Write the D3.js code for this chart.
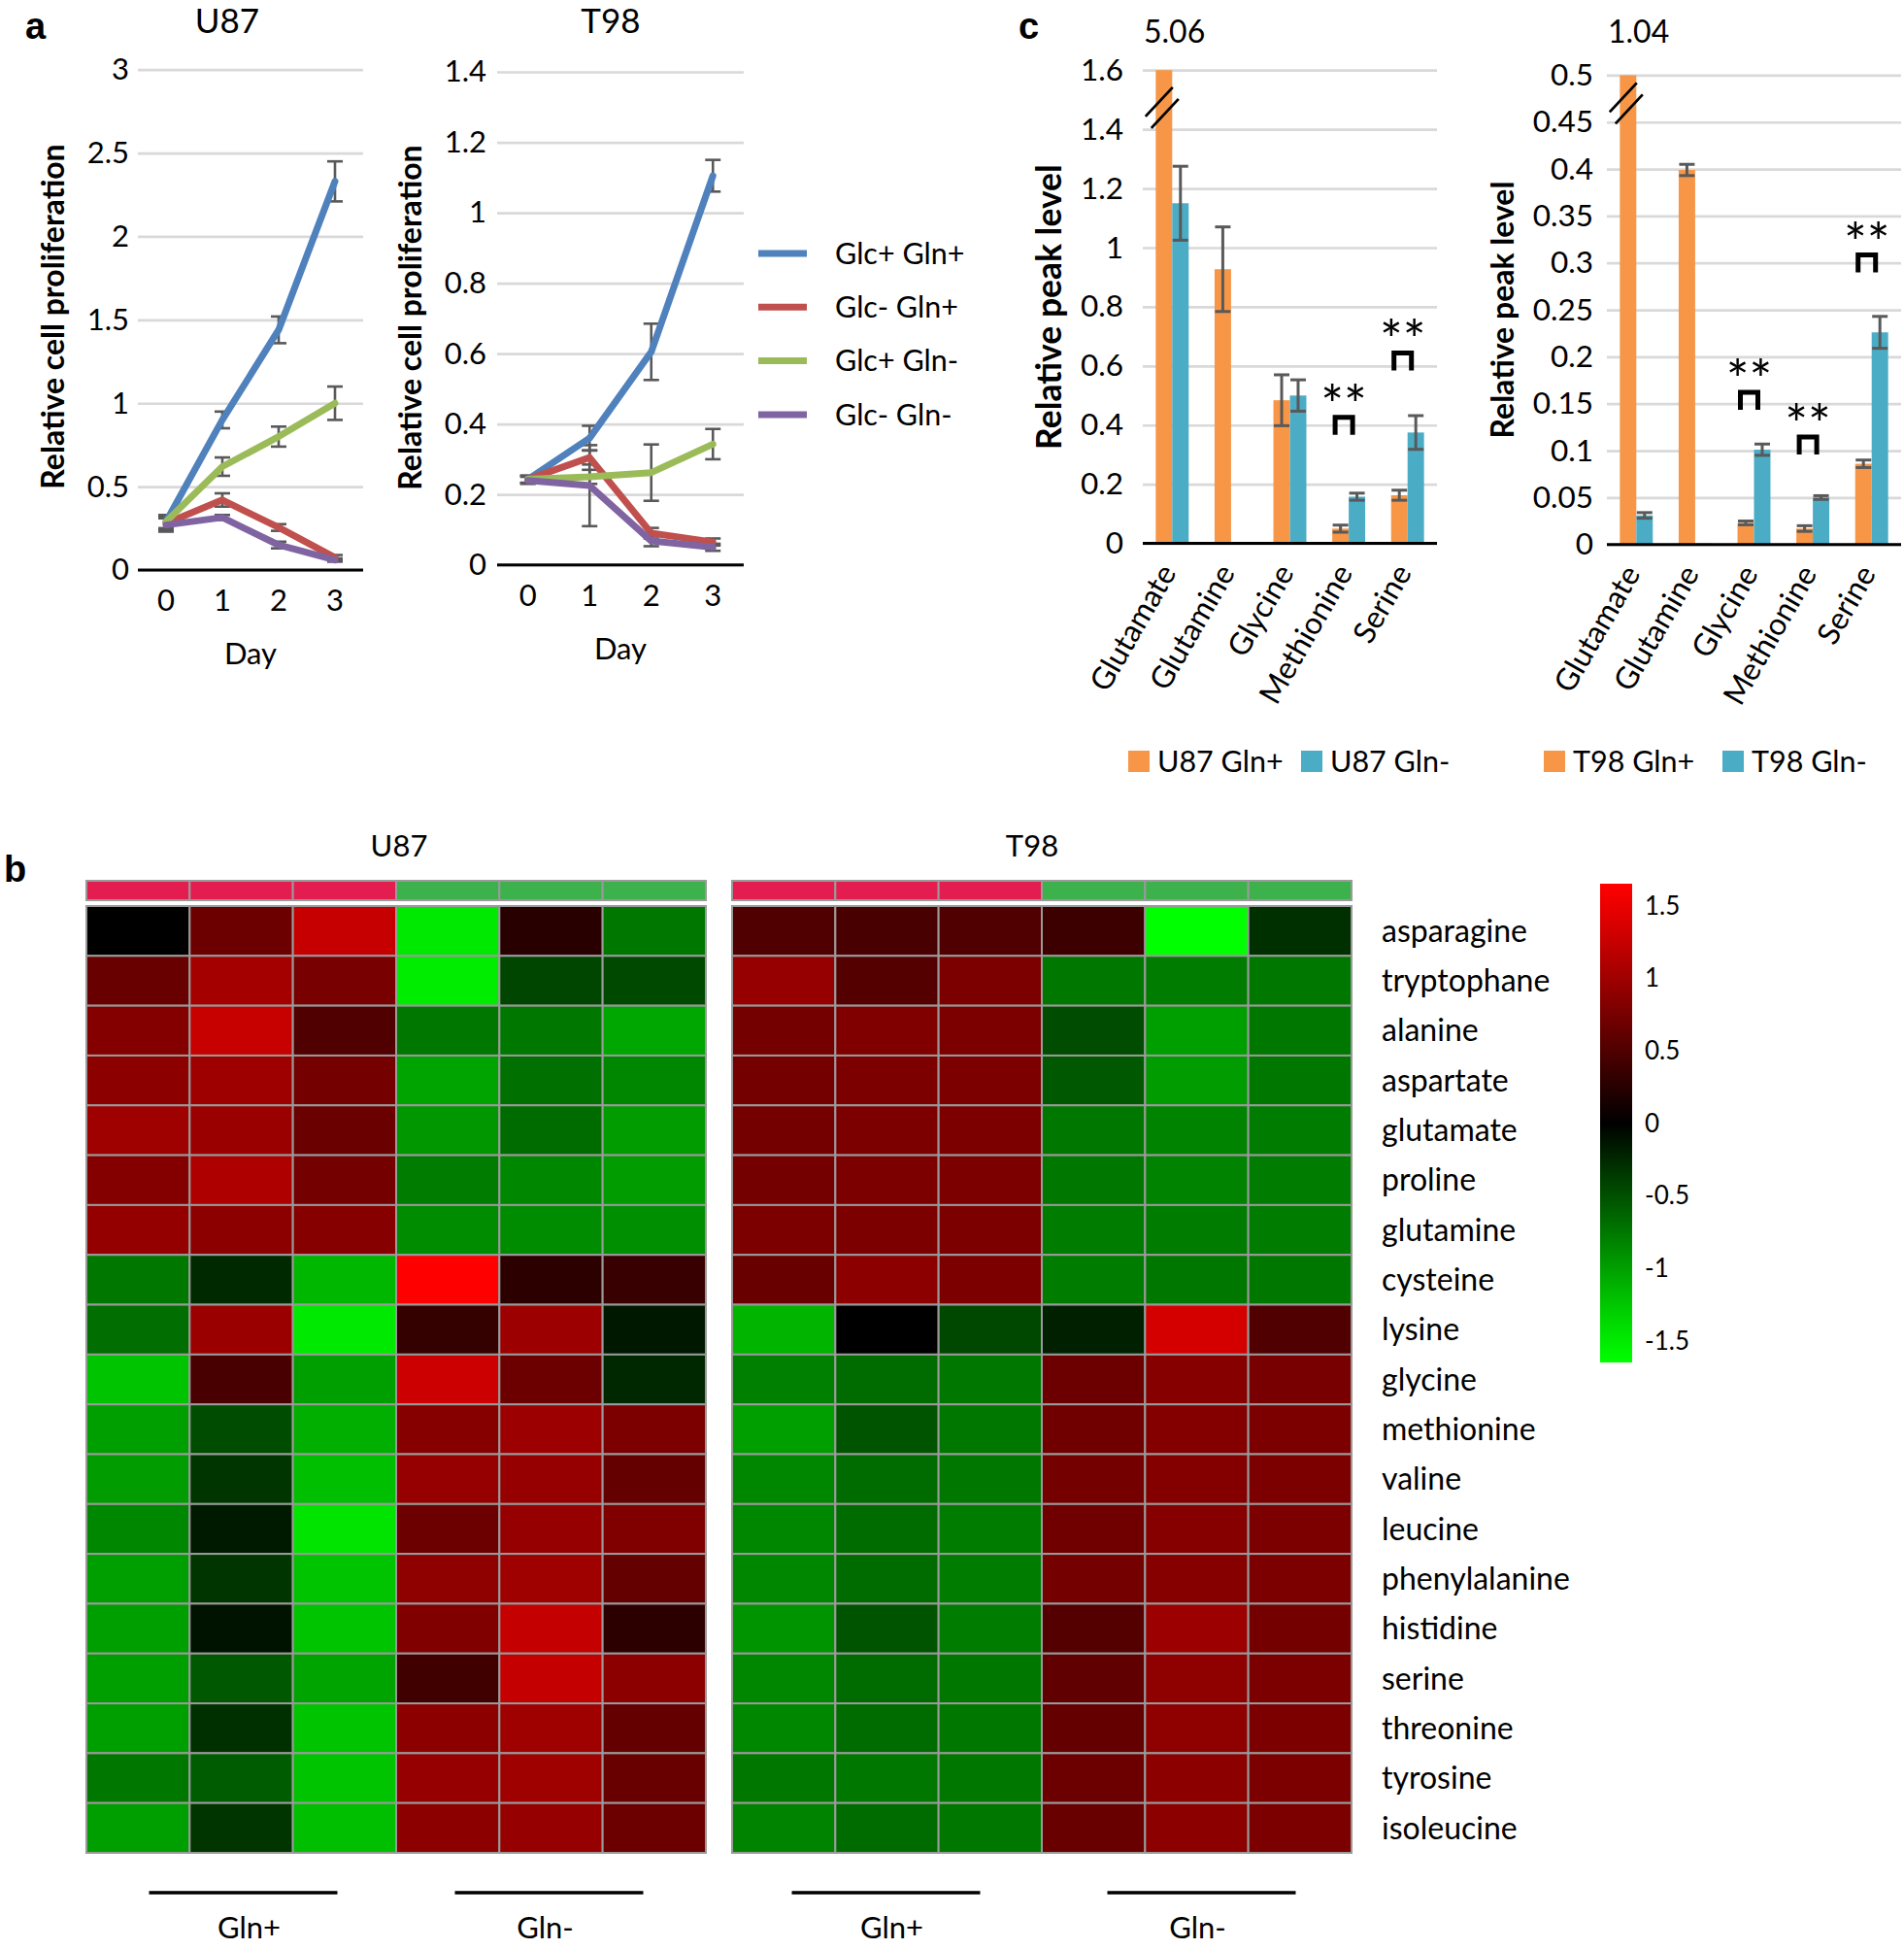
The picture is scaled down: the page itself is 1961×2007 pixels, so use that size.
<!DOCTYPE html>
<html><head><meta charset="utf-8">
<script src="https://cdn.jsdelivr.net/npm/d3@7"></script>
<style>
body{margin:0;background:#fff}
svg text{font-family:Lato,"Open Sans",sans-serif;fill:#000}
</style>
</head><body>
<svg id="fig" width="1961" height="2007" xmlns="http://www.w3.org/2000/svg"></svg>
<script>
// ---------------- DATA ----------------
const days = [0, 1, 2, 3];
const seriesNames = ["Glc+ Gln+", "Glc- Gln+", "Glc+ Gln-", "Glc- Gln-"];
const seriesColors = ["#4F81BD", "#C0504D", "#9BBB59", "#8064A2"];

// Panel a: U87 proliferation (rows = series, cols = days)
const u87Prolif = [
  [0.29, 0.90, 1.44, 2.33],
  [0.28, 0.42, 0.255, 0.075],
  [0.29, 0.62, 0.80, 1.00],
  [0.27, 0.315, 0.15, 0.06]
];
const u87ProlifErr = [
  [0.04, 0.05, 0.08, 0.12],
  [0.04, 0.04, 0.02, 0.015],
  [0.04, 0.055, 0.06, 0.10],
  [0.04, 0.015, 0.02, 0.01]
];
const u87ProlifTicks = [0, 0.5, 1, 1.5, 2, 2.5, 3];

// Panel a: T98 proliferation
const t98Prolif = [
  [0.243, 0.36, 0.605, 1.105],
  [0.243, 0.305, 0.09, 0.065],
  [0.243, 0.25, 0.262, 0.343],
  [0.24, 0.225, 0.068, 0.05]
];
const t98ProlifErr = [
  [0.01, 0.035, 0.08, 0.045],
  [0.01, 0.02, 0.015, 0.01],
  [0.01, 0.02, 0.08, 0.043],
  [0.01, 0.115, 0.015, 0.01]
];
const t98ProlifTicks = [0, 0.2, 0.4, 0.6, 0.8, 1, 1.2, 1.4];

// Panel c: relative peak levels
const aminoBars = ["Glutamate", "Glutamine", "Glycine", "Methionine", "Serine"];
const u87GlnPlus = [5.06, 0.927, 0.484, 0.05, 0.163];
const u87GlnPlusErr = [0, 0.143, 0.086, 0.012, 0.017];
const u87GlnMinus = [1.15, 0.003, 0.50, 0.158, 0.375];
const u87GlnMinusErr = [0.125, 0, 0.053, 0.012, 0.057];
const u87PeakTicks = [0, 0.2, 0.4, 0.6, 0.8, 1, 1.2, 1.4, 1.6];
const u87Sig = [{cat: "Methionine", top: 0.426}, {cat: "Serine", top: 0.644}];

const t98GlnPlus = [1.04, 0.399, 0.023, 0.017, 0.086];
const t98GlnPlusErr = [0, 0.006, 0.002, 0.003, 0.004];
const t98GlnMinus = [0.031, 0.001, 0.101, 0.05, 0.226];
const t98GlnMinusErr = [0.003, 0, 0.006, 0.002, 0.017];
const t98PeakTicks = [0, 0.05, 0.1, 0.15, 0.2, 0.25, 0.3, 0.35, 0.4, 0.45, 0.5];
const t98Sig = [{cat: "Glycine", top: 0.162}, {cat: "Methionine", top: 0.1145}, {cat: "Serine", top: 0.3085}];

// Panel b: heatmap (z-scores)
const heatRows = ["asparagine", "tryptophane", "alanine", "aspartate", "glutamate", "proline",
  "glutamine", "cysteine", "lysine", "glycine", "methionine", "valine", "leucine",
  "phenylalanine", "histidine", "serine", "threonine", "tyrosine", "isoleucine"];
const heatCols = ["Gln+", "Gln+", "Gln+", "Gln-", "Gln-", "Gln-"];
const u87Heat = [
  [0, 0.68, 1.24, -1.46, 0.25, -0.75],
  [0.65, 1.03, 0.75, -1.49, -0.43, -0.46],
  [0.83, 1.25, 0.50, -0.75, -0.75, -1.05],
  [0.88, 0.99, 0.73, -1.03, -0.70, -0.85],
  [1.00, 0.97, 0.67, -0.95, -0.68, -0.98],
  [0.83, 1.10, 0.73, -0.78, -0.85, -0.98],
  [0.93, 0.88, 0.85, -0.88, -0.88, -0.90],
  [-0.75, -0.26, -1.15, 1.60, 0.28, 0.35],
  [-0.69, 0.97, -1.46, 0.33, 0.98, -0.15],
  [-1.23, 0.45, -1.00, 1.28, 0.68, -0.25],
  [-1.00, -0.48, -1.10, 0.85, 0.98, 0.78],
  [-0.98, -0.33, -1.20, 0.95, 0.95, 0.63],
  [-0.85, -0.16, -1.43, 0.68, 0.95, 0.80],
  [-1.00, -0.33, -1.23, 0.90, 1.00, 0.63],
  [-1.00, -0.11, -1.23, 0.80, 1.23, 0.28],
  [-1.00, -0.55, -1.03, 0.40, 1.23, 0.88],
  [-1.00, -0.30, -1.23, 0.88, 1.00, 0.63],
  [-0.75, -0.58, -1.23, 0.95, 1.00, 0.65],
  [-1.00, -0.33, -1.20, 0.88, 0.95, 0.68]
];
const t98Heat = [
  [0.50, 0.45, 0.50, 0.38, -1.60, -0.30],
  [0.95, 0.53, 0.78, -0.75, -0.78, -0.75],
  [0.73, 0.80, 0.78, -0.48, -1.00, -0.75],
  [0.73, 0.78, 0.78, -0.55, -0.98, -0.75],
  [0.73, 0.78, 0.78, -0.75, -0.83, -0.78],
  [0.73, 0.78, 0.78, -0.75, -0.83, -0.78],
  [0.78, 0.78, 0.78, -0.78, -0.78, -0.78],
  [0.65, 0.88, 0.78, -0.78, -0.75, -0.75],
  [-1.13, 0, -0.45, -0.20, 1.33, 0.50],
  [-0.80, -0.68, -0.75, 0.68, 0.85, 0.75],
  [-1.00, -0.53, -0.75, 0.70, 0.83, 0.78],
  [-0.85, -0.68, -0.75, 0.73, 0.83, 0.78],
  [-0.85, -0.68, -0.78, 0.70, 0.85, 0.78],
  [-0.85, -0.68, -0.78, 0.73, 0.85, 0.78],
  [-0.93, -0.53, -0.78, 0.53, 0.98, 0.73],
  [-0.85, -0.68, -0.75, 0.60, 0.90, 0.78],
  [-0.85, -0.68, -0.75, 0.63, 0.90, 0.78],
  [-0.75, -0.75, -0.75, 0.68, 0.88, 0.78],
  [-0.83, -0.68, -0.75, 0.65, 0.88, 0.78]
];
const colorbarTicks = [1.5, 1, 0.5, 0, -0.5, -1, -1.5];

// ---------------- DRAWING ----------------
const svg = d3.select("#fig");
const fmt = d => String(+(+d).toFixed(3));
const GRID = "#d9d9d9", ERR = "#595959";

function panelLabel(t, x, y) {
  svg.append("text").attr("x", x).attr("y", y).text(t)
    .style("font-family", "'Liberation Sans',Arial,sans-serif").style("font-weight", "bold").style("font-size", "38px");
}
panelLabel("a", 26, 40);
panelLabel("b", 4, 908);
panelLabel("c", 1049, 40);

// ---- Panel a: line charts ----
function lineChart(o) {
  const g = svg.append("g");
  const x = d3.scalePoint(days, [o.x0, o.x1]).padding(0.5);
  const y = d3.scaleLinear([0, o.ticks[o.ticks.length - 1]], [o.yb, o.yt]);
  const ax = g.append("g").attr("transform", `translate(${o.x0},0)`)
    .call(d3.axisLeft(y).tickValues(o.ticks).tickFormat(fmt).tickSize(-(o.x1 - o.x0)).tickPadding(o.pad));
  ax.select(".domain").remove();
  ax.selectAll(".tick line").attr("stroke", GRID).attr("stroke-width", 2.7);
  ax.selectAll(".tick text").style("font-size", "31px").attr("fill", "#000");
  g.append("line").attr("x1", o.x0).attr("x2", o.x1).attr("y1", y(0)).attr("y2", y(0))
    .attr("stroke", "#000").attr("stroke-width", 3);
  g.selectAll("text.xt").data(days).join("text").attr("class", "xt")
    .attr("x", d => x(d)).attr("y", o.yb + 31).attr("dy", "0.35em").attr("text-anchor", "middle")
    .style("font-size", "31px").text(d => d);
  g.append("text").attr("x", (o.x0 + o.x1) / 2).attr("y", o.yb + 86).attr("dy", "0.35em")
    .attr("text-anchor", "middle").style("font-size", "31px").text("Day");
  g.append("text").attr("x", o.titleX).attr("y", 22).attr("dy", "0.35em")
    .attr("text-anchor", "middle").style("font-size", "35px").text(o.title);
  g.append("text").attr("transform", `translate(${o.ytx},${o.yty}) rotate(-90)`)
    .attr("text-anchor", "middle").attr("dy", "0.35em")
    .style("font-size", "32px").style("font-weight", "bold").text("Relative cell proliferation");
  o.data.forEach((s, si) => {
    s.forEach((v, di) => {
      const e = o.err[si][di], cx = x(days[di]);
      const eg = g.append("g").attr("stroke", ERR).attr("stroke-width", 2.6);
      eg.append("line").attr("x1", cx).attr("x2", cx).attr("y1", y(v - e)).attr("y2", y(v + e));
      eg.append("line").attr("x1", cx - 8).attr("x2", cx + 8).attr("y1", y(v - e)).attr("y2", y(v - e));
      eg.append("line").attr("x1", cx - 8).attr("x2", cx + 8).attr("y1", y(v + e)).attr("y2", y(v + e));
    });
  });
  const line = d3.line().x((d, i) => x(days[i])).y(d => y(d));
  o.data.forEach((s, si) => {
    g.append("path").attr("d", line(s)).attr("fill", "none")
      .attr("stroke", seriesColors[si]).attr("stroke-width", 7)
      .attr("stroke-linejoin", "round").attr("stroke-linecap", "round");
  });
}
lineChart({x0: 142, x1: 374, yb: 587, yt: 71.7, ticks: u87ProlifTicks, data: u87Prolif, err: u87ProlifErr,
  title: "U87", titleX: 234, ytx: 55, yty: 326, pad: 9});
lineChart({x0: 512, x1: 766, yb: 581.7, yt: 74, ticks: t98ProlifTicks, data: t98Prolif, err: t98ProlifErr,
  title: "T98", titleX: 629, ytx: 423, yty: 327, pad: 11});

// legend a
const lg = svg.append("g");
seriesNames.forEach((n, i) => {
  const yy = 261 + i * 55.3;
  lg.append("line").attr("x1", 781).attr("x2", 831).attr("y1", yy).attr("y2", yy)
    .attr("stroke", seriesColors[i]).attr("stroke-width", 7);
  lg.append("text").attr("x", 860).attr("y", yy).attr("dy", "0.35em").style("font-size", "30.5px").text(n);
});

// ---- Panel c: bar charts ----
function barChart(o) {
  const g = svg.append("g");
  const x = d3.scaleBand(aminoBars, [o.x0, o.x1]).paddingInner(0.44).paddingOuter(0.22);
  const xs = d3.scaleBand(["plus", "minus"], [0, x.bandwidth()]);
  const ymax = o.ticks[o.ticks.length - 1];
  const y = d3.scaleLinear([0, ymax], [o.yb, o.yt]).clamp(true);
  const ax = g.append("g").attr("transform", `translate(${o.x0},0)`)
    .call(d3.axisLeft(y).tickValues(o.ticks).tickFormat(fmt).tickSize(-(o.x1 - o.x0)).tickPadding(o.pad));
  ax.select(".domain").remove();
  ax.selectAll(".tick line").attr("stroke", GRID).attr("stroke-width", 2.7);
  ax.selectAll(".tick text").style("font-size", "31.5px").attr("fill", "#000");
  const series = [{k: "plus", v: o.plus, e: o.plusErr, c: "#F79646"}, {k: "minus", v: o.minus, e: o.minusErr, c: "#4BACC6"}];
  series.forEach(s => {
    g.selectAll(null).data(aminoBars).join("rect")
      .attr("x", d => x(d) + xs(s.k)).attr("width", xs.bandwidth())
      .attr("y", (d, i) => y(s.v[i])).attr("height", (d, i) => y(0) - y(s.v[i])).attr("fill", s.c);
  });
  series.forEach(s => {
    aminoBars.forEach((d, i) => {
      if (s.v[i] > ymax || s.e[i] <= 0) return;
      const cx = x(d) + xs(s.k) + xs.bandwidth() / 2;
      const eg = g.append("g").attr("stroke", ERR).attr("stroke-width", 3);
      eg.append("line").attr("x1", cx).attr("x2", cx).attr("y1", y(s.v[i] - s.e[i])).attr("y2", y(s.v[i] + s.e[i]));
      eg.append("line").attr("x1", cx - 8).attr("x2", cx + 8).attr("y1", y(s.v[i] - s.e[i])).attr("y2", y(s.v[i] - s.e[i]));
      eg.append("line").attr("x1", cx - 8).attr("x2", cx + 8).attr("y1", y(s.v[i] + s.e[i])).attr("y2", y(s.v[i] + s.e[i]));
    });
  });
  g.append("line").attr("x1", o.x0).attr("x2", o.x1).attr("y1", y(0)).attr("y2", y(0))
    .attr("stroke", "#000").attr("stroke-width", 3);
  const bx = x(aminoBars[0]) + xs("plus") + xs.bandwidth() / 2 - 2, by = y(o.breakAt);
  [[-17, 9, 11, -21], [-11, 21, 17, -9]].forEach(p => {
    g.append("line").attr("x1", bx + p[0]).attr("y1", by + p[1]).attr("x2", bx + p[2]).attr("y2", by + p[3])
      .attr("stroke", "#000").attr("stroke-width", 2.8);
  });
  g.append("text").attr("x", o.x0 + 1).attr("y", 33).attr("dy", "0.35em").style("font-size", "32px").text(o.topLabel);
  g.selectAll("text.cat").data(aminoBars).join("text").attr("class", "cat")
    .attr("transform", d => `translate(${x(d) + x.bandwidth() / 2 + 5},${y(0) + 30}) rotate(-60)`)
    .attr("text-anchor", "end").style("font-size", "31.5px").text(d => d);
  o.sig.forEach(s => {
    const cx = x(s.cat) + x.bandwidth() / 2 - 5, ty = y(s.top);
    g.append("path").attr("d", `M${cx - 9},${ty + 18}V${ty}H${cx + 9}V${ty + 18}`)
      .attr("fill", "none").attr("stroke", "#000").attr("stroke-width", 5);
    g.append("text").attr("x", cx).attr("y", ty + 7).attr("text-anchor", "middle")
      .style("font-size", "56px").text("**");
  });
  g.append("text").attr("transform", `translate(${o.ytx},${o.yty}) rotate(-90)`)
    .attr("text-anchor", "middle").attr("dy", "0.35em")
    .style("font-size", o.ytSize).style("font-weight", "bold").text("Relative peak level");
  [[o.leg[0], "#F79646", o.cell + " Gln+"], [o.leg[1], "#4BACC6", o.cell + " Gln-"]].forEach(l => {
    g.append("rect").attr("x", l[0]).attr("y", 773).attr("width", 22).attr("height", 22).attr("fill", l[1]);
    g.append("text").attr("x", l[0] + 30).attr("y", 784).attr("dy", "0.35em").style("font-size", "30.5px").text(l[2]);
  });
}
barChart({x0: 1177, x1: 1480, yb: 559.6, yt: 72.2, ticks: u87PeakTicks, plus: u87GlnPlus, plusErr: u87GlnPlusErr,
  minus: u87GlnMinus, minusErr: u87GlnMinusErr, sig: u87Sig, breakAt: 1.473, topLabel: "5.06",
  ytx: 1081, yty: 316, ytSize: "35.5px", leg: [1162, 1340], cell: "U87", pad: 20});
barChart({x0: 1655, x1: 1958, yb: 560.7, yt: 77.4, ticks: t98PeakTicks, plus: t98GlnPlus, plusErr: t98GlnPlusErr,
  minus: t98GlnMinus, minusErr: t98GlnMinusErr, sig: t98Sig, breakAt: 0.47, topLabel: "1.04",
  ytx: 1548, yty: 319, ytSize: "32px", leg: [1590, 1774], cell: "T98", pad: 14});

// ---- Panel b: heatmaps ----
const heatColor = d3.scaleLinear([-1.6, 0, 1.6], ["#00ff00", "#000000", "#ff0000"]).clamp(true);
const yRow = d3.scaleBand(heatRows, [933, 1908]);
function heatmap(o) {
  const g = svg.append("g");
  const x = d3.scaleBand(d3.range(heatCols.length), [o.x0, o.x1]);
  g.append("text").attr("x", o.titleX).attr("y", 871).attr("dy", "0.35em").attr("text-anchor", "middle")
    .style("font-size", "31px").text(o.title);
  g.selectAll("rect.ann").data(heatCols).join("rect").attr("class", "ann")
    .attr("x", (d, i) => x(i)).attr("width", x.bandwidth()).attr("y", 907).attr("height", 20)
    .attr("fill", d => d === "Gln+" ? "#e31d4f" : "#3db14b").attr("stroke", "#9a9a9a").attr("stroke-width", 2);
  o.data.forEach((row, ri) => {
    g.selectAll(null).data(row).join("rect")
      .attr("x", (d, i) => x(i)).attr("width", x.bandwidth())
      .attr("y", yRow(heatRows[ri])).attr("height", yRow.bandwidth())
      .attr("fill", d => heatColor(d)).attr("stroke", "#9a9a9a").attr("stroke-width", 2);
  });
  ["Gln+", "Gln-"].forEach((grp, gi) => {
    const idx = heatCols.map((c, i) => c === grp ? i : -1).filter(i => i >= 0);
    const cx = (x(idx[0]) + x(idx[idx.length - 1]) + x.bandwidth()) / 2 + o.shift[gi];
    g.append("line").attr("x1", cx - 97).attr("x2", cx + 97).attr("y1", 1949).attr("y2", 1949)
      .attr("stroke", "#000").attr("stroke-width", 3.5);
    g.append("text").attr("x", cx + o.tshift[gi]).attr("y", 1985).attr("dy", "0.35em").attr("text-anchor", "middle")
      .style("font-size", "31px").text(grp);
  });
}
heatmap({x0: 89, x1: 727, data: u87Heat, title: "U87", titleX: 411, shift: [2, -2], tshift: [6, -4]});
heatmap({x0: 754, x1: 1392, data: t98Heat, title: "T98", titleX: 1063, shift: [-1, 5], tshift: [6, -4]});

svg.selectAll("text.rl").data(heatRows).join("text").attr("class", "rl")
  .attr("x", 1423).attr("y", d => yRow(d) + yRow.bandwidth() / 2).attr("dy", "0.35em")
  .style("font-size", "32px").text(d => d);

// colour bar
const cb = d3.scaleLinear([-1.65, 1.65], [1403, 910]);
const defs = svg.append("defs");
const grad = defs.append("linearGradient").attr("id", "cbg").attr("x1", 0).attr("x2", 0).attr("y1", 0).attr("y2", 1);
d3.range(0, 11).forEach(i => {
  const v = 1.65 - i * 0.33;
  grad.append("stop").attr("offset", (i / 10)).attr("stop-color", heatColor(v));
});
svg.append("rect").attr("x", 1648).attr("y", cb(1.65)).attr("width", 33).attr("height", cb(-1.65) - cb(1.65))
  .attr("fill", "url(#cbg)");
svg.selectAll("text.cbt").data(colorbarTicks).join("text").attr("class", "cbt")
  .attr("x", 1694).attr("y", d => cb(d)).attr("dy", "0.35em").style("font-size", "26px").text(d => fmt(d));
</script>
</body></html>
